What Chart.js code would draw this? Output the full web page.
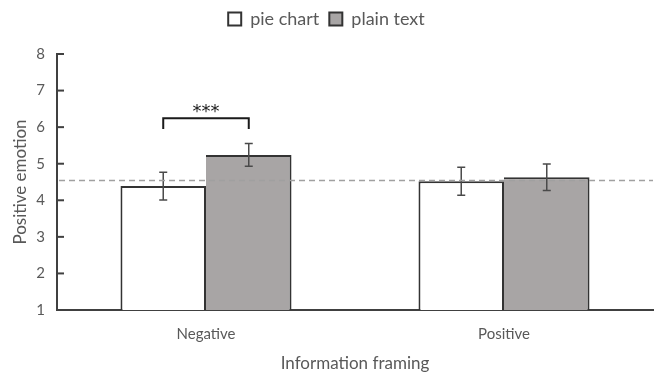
<!DOCTYPE html>
<html>
<head>
<meta charset="utf-8">
<script src="https://cdn.jsdelivr.net/npm/chart.js@4.4.0/dist/chart.umd.min.js"></script>
<style>
    html, body { margin: 0; padding: 0; background: #fff; }
    #wrap { width: 661px; height: 374px; }
</style>
</head>
<body>
<div id="wrap"><canvas id="chart"></canvas></div>
<script>
// data
const categories = ['Negative', 'Positive'];
const pieChart = [4.39, 4.52];
const plainText = [5.24, 4.63];
const pieErr = [0.38, 0.38];
const plainErr = [0.31, 0.36];
const refLine = 4.54;
const yTicks = [1, 2, 3, 4, 5, 6, 7, 8];
const bracketTop = 6.24;
const bracketFoot = 5.95;

const textColor = '#595959';
const lineColor = '#404040';

// leave some room between legend and plot
const legendGap = {
    id: 'legendGap',
    afterInit(chart) {
        const legend = chart.legend;
        const fit = legend.fit;
        legend.fit = function () {
            fit.call(this);
            this.height += 16;
        };
    }
};

// tick marks on the inner side of the y axis, error bars, reference line and bracket
const extras = {
    id: 'extras',
    afterDatasetsDraw(chart) {
        const ctx = chart.ctx;
        const y = chart.scales.y;
        const area = chart.chartArea;
        ctx.save();

        // inner ticks
        ctx.strokeStyle = lineColor;
        ctx.lineWidth = 2;
        yTicks.forEach(v => {
            const py = y.getPixelForValue(v);
            ctx.beginPath();
            ctx.moveTo(area.left, py);
            ctx.lineTo(area.left + 7, py);
            ctx.stroke();
        });

        // error bars
        const errs = [pieErr, plainErr];
        const vals = [pieChart, plainText];
        ctx.strokeStyle = '#4a4a4a';
        ctx.lineWidth = 1.5;
        for (let d = 0; d < 2; d++) {
            const meta = chart.getDatasetMeta(d);
            meta.data.forEach((bar, i) => {
                const top = y.getPixelForValue(vals[d][i] + errs[d][i]);
                const bot = y.getPixelForValue(vals[d][i] - errs[d][i]);
                ctx.beginPath();
                ctx.moveTo(bar.x, top);
                ctx.lineTo(bar.x, bot);
                ctx.moveTo(bar.x - 4, top);
                ctx.lineTo(bar.x + 4, top);
                ctx.moveTo(bar.x - 4, bot);
                ctx.lineTo(bar.x + 4, bot);
                ctx.stroke();
            });
        }

        // dashed reference line
        const ry = y.getPixelForValue(refLine);
        ctx.strokeStyle = '#a0a0a0';
        ctx.lineWidth = 1.5;
        ctx.setLineDash([6, 4]);
        ctx.beginPath();
        ctx.moveTo(area.left + 2, ry);
        ctx.lineTo(area.right, ry);
        ctx.stroke();
        ctx.setLineDash([]);

        // significance bracket
        const x1 = chart.getDatasetMeta(0).data[0].x;
        const x2 = chart.getDatasetMeta(1).data[0].x;
        const bt = y.getPixelForValue(bracketTop);
        const bf = y.getPixelForValue(bracketFoot);
        ctx.strokeStyle = '#1a1a1a';
        ctx.lineWidth = 2;
        ctx.beginPath();
        ctx.moveTo(x1, bf);
        ctx.lineTo(x1, bt);
        ctx.lineTo(x2, bt);
        ctx.lineTo(x2, bf);
        ctx.stroke();
        ctx.fillStyle = '#1a1a1a';
        ctx.font = '18px "DejaVu Sans"';
        ctx.textAlign = 'center';
        ctx.textBaseline = 'middle';
        ctx.fillText('***', (x1 + x2) / 2, bt - 6);

        ctx.restore();
    }
};

new Chart(document.getElementById('chart'), {
    type: 'bar',
    data: {
        labels: categories,
        datasets: [{
            label: 'pie chart',
            data: pieChart,
            backgroundColor: '#ffffff',
            borderColor: '#333333',
            borderWidth: 2,
            barPercentage: 1,
            categoryPercentage: 0.574
        }, {
            label: 'plain text',
            data: plainText,
            backgroundColor: '#a8a5a5',
            borderColor: '#333333',
            borderWidth: 2,
            borderSkipped: 'left',
            barPercentage: 1,
            categoryPercentage: 0.574
        }]
    },
    options: {
        responsive: true,
        maintainAspectRatio: false,
        animation: false,
        layout: { padding: { left: 0, right: 8, top: 0, bottom: 0 } },
        plugins: {
            legend: {
                position: 'top',
                labels: {
                    boxWidth: 13,
                    boxHeight: 13,
                    padding: 10,
                    color: textColor,
                    font: { family: 'Lato', size: 18 }
                }
            },
            tooltip: { enabled: false }
        },
        scales: {
            x: {
                grid: { display: false },
                border: { display: true, color: lineColor, width: 2 },
                ticks: {
                    color: textColor,
                    padding: 7,
                    font: { family: 'Lato', size: 15 }
                },
                title: {
                    display: true,
                    text: 'Information framing',
                    color: textColor,
                    padding: { top: 6, bottom: 0 },
                    font: { family: 'Lato', size: 17 }
                },
                afterFit(scale) { scale.height = 64; }
            },
            y: {
                min: 1,
                max: 8,
                grid: { display: false, drawTicks: false },
                border: { display: true, color: lineColor, width: 2 },
                ticks: {
                    stepSize: 1,
                    color: textColor,
                    padding: 12,
                    font: { family: 'Lato', size: 15 }
                },
                title: {
                    display: true,
                    text: 'Positive emotion',
                    color: textColor,
                    padding: { top: 10, bottom: 4 },
                    font: { family: 'Lato', size: 17 }
                },
                afterFit(scale) { scale.width = 57; }
            }
        }
    },
    plugins: [legendGap, extras]
});
</script>
</body>
</html>
